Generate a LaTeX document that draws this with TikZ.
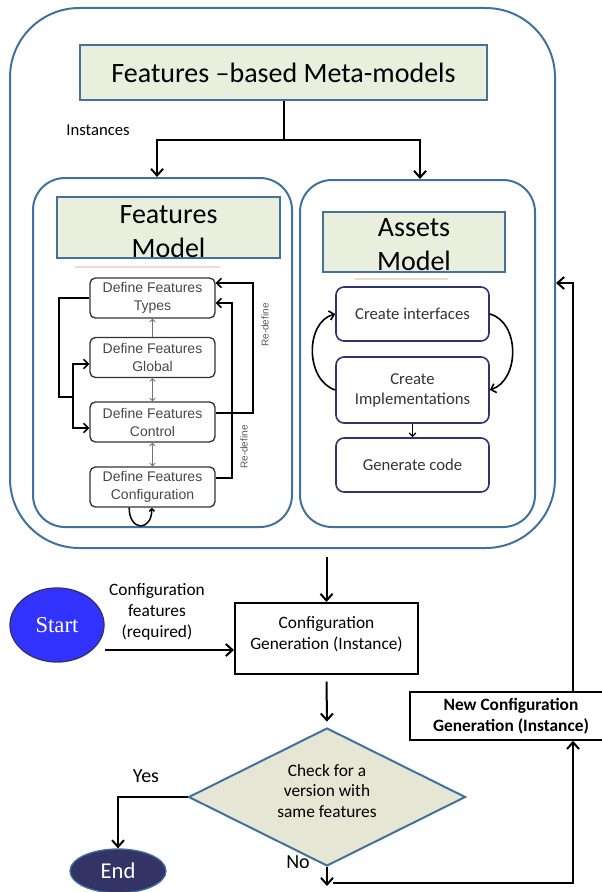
\documentclass[tikz,border=0pt]{standalone}
\usepackage{fontspec}
\setmainfont{Carlito}
\newfontfamily\arialf{Liberation Sans}
\newfontfamily\seriff{Liberation Serif}
\usetikzlibrary{arrows.meta,shapes.geometric,calc}
\definecolor{bl}{RGB}{65,113,156}
\definecolor{titlefill}{RGB}{234,238,220}
\definecolor{diafill}{RGB}{230,230,212}
\definecolor{navy}{RGB}{50,50,110}
\definecolor{startblue}{RGB}{51,51,255}
\definecolor{endnavy}{RGB}{51,51,102}
\definecolor{pale}{RGB}{242,217,204}
\begin{document}
\begin{tikzpicture}[x=0.75pt,y=-0.75pt,
  conn/.style={line width=1.5pt,-{Straight Barb[length=5pt,width=9pt,line width=1.5pt]}},
  plainline/.style={line width=1.5pt},
  titlebox/.style={draw=bl,fill=titlefill,line width=1.5pt,inner sep=0pt,align=center,font=\fontsize{21}{25}\selectfont},
  titletext/.style={inner sep=0pt,align=center,font=\fontsize{21}{25}\selectfont},
  innerbox/.style={draw=bl,line width=1.5pt,rounded corners=24pt},
  dbox/.style={draw=black!80,line width=1pt,rounded corners=4pt,minimum width=93.75pt,minimum height=30pt,
    font=\arialf\fontsize{10.5}{13.5}\selectfont,text=black!72,align=center,inner sep=1pt},
  sarr/.style={line width=0.6pt,draw=black!55},
  thk/.style={line width=1.2pt},
  thkarr/.style={line width=1.2pt,-{Straight Barb[length=3.5pt,width=7pt,line width=1.2pt]}},
  abox/.style={draw=navy,line width=1.2pt,rounded corners=6pt,minimum width=114.75pt,
    font=\fontsize{12.5}{15}\selectfont,text=black!80,align=center,inner sep=1pt},
  lbl/.style={font=\fontsize{13}{15.75}\selectfont,align=center},
  redef/.style={rotate=90,font=\arialf\fontsize{7.5}{9}\selectfont,text=black!65}
]
\useasboundingbox (0,0) rectangle (601,892);

% outer container
\node[draw=bl,line width=1.5pt,rounded corners=52pt,minimum width=408.75pt,minimum height=405pt] (outer) at (282.5,278) {};
\node[titlebox,minimum width=305.25pt,minimum height=41.25pt] (meta) at (283.5,72.5) {Features –based Meta-models};
\node[font=\fontsize{12.5}{15}\selectfont] (inst) at (98,130) {Instances};

% inner boxes
\node[innerbox,minimum width=194.25pt,minimum height=261.75pt] (lbox) at (162.5,352.5) {};
\node[innerbox,minimum width=176.25pt,minimum height=260.25pt] (rbox) at (417.5,353.5) {};

\coordinate (split) at (283.5,140);
\draw[plainline] (meta.south) -- (split);
\draw[conn] (split) -| ([xshift=-4.1pt]lbox.north);
\draw[conn] (split) -| ([xshift=1.9pt]rbox.north);

% Features model
\node[titlebox,minimum width=167.25pt,minimum height=45.75pt] (fmt) at (168.5,227.5) {};
\node[titletext] (fmtext) at (168.5,231.5) {Features\\Model};
\draw[pale,line width=0.8pt] (75,267) -- (220,267);
\node[dbox] (d1) at (152.5,298) {Define Features\\Types};
\node[dbox] (d2) at (152.5,357.5) {Define Features\\Global};
\node[dbox] (d3) at (152.5,422) {Define Features\\Control};
\node[dbox] (d4) at (152.5,487) {Define Features\\Configuration};

\draw[sarr,-{Straight Barb[length=2pt,width=4pt]}] (d2.north) -- (d1.south);
\draw[sarr,{Straight Barb[length=2pt,width=4pt]}-{Straight Barb[length=2pt,width=4pt]}] (d3.north) -- (d2.south);
\draw[sarr,{Straight Barb[length=2pt,width=4pt]}-{Straight Barb[length=2pt,width=4pt]}] (d4.north) -- (d3.south);

\draw[thk] (d1.west) -| (59,397) -- (73,397);
\draw[thkarr] (73,397) |- (d2.west |- 0,364);
\draw[thkarr] (73,397) |- (d3.west |- 0,428);

\draw[thkarr] (d3.east |- 0,413) -| (253,283) -- (d1.east |- 0,283);
\draw[thkarr] (d4.east |- 0,478) -| (232,303) -- (d1.east |- 0,303);
\node[redef] (rd1) at (265,325) {Re-define};
\node[redef] (rd2) at (244,447) {Re-define};

\draw[line width=1.1pt,-{Straight Barb[length=2pt,width=4pt]}] ([xshift=-17.5pt]d4.south) .. controls +(0,24) and +(0,24) .. ([xshift=-0.5pt]d4.south);

% Assets model
\node[titlebox,minimum width=136.5pt,minimum height=45pt] (amt) at (414,242) {};
\node[titletext] (amtext) at (414,244.5) {Assets\\Model};
\draw[pale,line width=0.8pt] (355,279) -- (448,279);
\node[abox,minimum height=40.5pt] (a1) at (412.5,314) {Create interfaces};
\node[abox,minimum height=49.5pt] (a2) at (412.5,390) {Create\\Implementations};
\node[abox,minimum height=40.5pt] (a3) at (412.5,465) {Generate code};
\draw[thkarr] (a2.west) .. controls (305,380) and (305,322) .. (a1.west);
\draw[thkarr] (a1.east) .. controls (520,322) and (520,380) .. (a2.east);
\draw[line width=1pt,-{Straight Barb[length=2.5pt,width=5pt]}] (a2.south) -- (a3.north);

% bottom flow
\node[draw=black,line width=1.5pt,minimum width=137.25pt,minimum height=53.25pt,align=center,
  font=\fontsize{13}{16}\selectfont] (cg) at (326.5,638.5) {Configuration\\Generation (Instance)\\[-8pt]\mbox{}};
\draw[conn,shorten <=6pt] (outer.south -| cg.north) -- (cg.north);

\node[ellipse,draw=navy,line width=1pt,fill=startblue,minimum width=70.5pt,minimum height=55.5pt,
  text=white,font=\seriff\fontsize{17}{20}\selectfont] (start) at (57,625) {Start};
\node[lbl] (cfl) at (157,612) {Configuration\\features\\(required)};
\draw[conn] (start.east |- 0,650) -- (cg.west |- 0,650);

\node[diamond,aspect=2,draw=bl,fill=diafill,line width=1.5pt,minimum width=207.75pt,minimum height=103.5pt,
  inner sep=0pt,align=center,font=\fontsize{13}{15.5}\selectfont] (dia) at (327,797) {Check for a\\version with\\same features\\[-6pt]\mbox{}};
\draw[conn,shorten <=5pt,shorten >=4pt] (cg.south) -- (dia.north);

\node[ellipse,draw=bl,line width=1pt,fill=endnavy,minimum width=72pt,minimum height=33pt,
  text=white,font=\fontsize{17}{20}\selectfont] (end) at (118,871) {End};
\draw[conn] (dia.west) -| (end.north);
\node[font=\fontsize{15}{18}\selectfont] (yes) at (146,776) {Yes};

\coordinate (nob) at (327,886);
\draw[conn] (dia.south) -- (nob);
\node[font=\fontsize{15}{18}\selectfont] (no) at (298,862) {No};

\node[draw=black,line width=1.2pt,minimum width=151.5pt,minimum height=36pt,align=center,
  font=\bfseries\fontsize{13}{16}\selectfont] (newc) at (511,716) {New Configuration\\Generation (Instance)};
\coordinate (noh) at (333,883);
\draw[conn] (noh) -| (newc.south -| 573,0);
\draw[conn] (newc.north -| 573,0) -- (573,283) -- (outer.east |- 0,283);
\end{tikzpicture}
\end{document}
